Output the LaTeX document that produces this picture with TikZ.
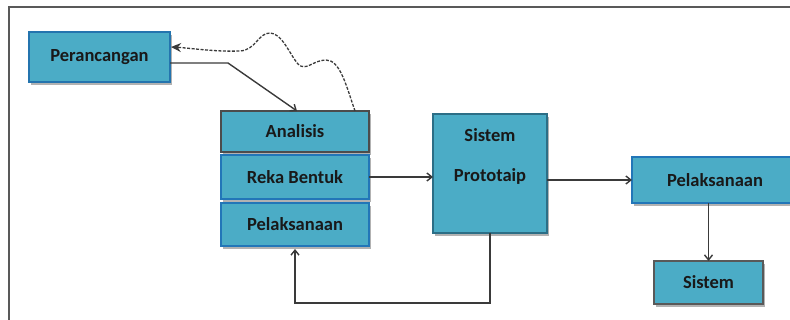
\documentclass[tikz,border=0pt]{standalone}
\usepackage{fontspec}
\setmainfont{Carlito}
\usetikzlibrary{arrows.meta,shadows}
\definecolor{boxfill}{HTML}{4BACC6}
\definecolor{boxedge}{HTML}{2C6E86}
\definecolor{blueedge}{HTML}{2276B8}
\definecolor{lineclr}{HTML}{3A3A3A}
\tikzset{
  box/.style={draw=boxedge, fill=boxfill, line width=1.6pt, inner sep=0pt, outer sep=0pt,
    font=\fontsize{18.5}{21}\selectfont\bfseries, text=black!90,
    drop shadow={shadow xshift=1.5pt, shadow yshift=-3pt, opacity=0.3, fill=black}},
  lbl/.style={font=\fontsize{18.5}{21}\selectfont\bfseries, text=black!90, inner sep=0pt},
  conn/.style={draw=lineclr, line width=1.4pt, -{Straight Barb[length=5pt,width=8pt]}},
  dconn/.style={draw=lineclr, line width=1.3pt, dash pattern=on 3pt off 1.5pt, -{Stealth[length=10pt,width=9pt]}},
}
\begin{document}
\begin{tikzpicture}[x=1pt,y=-1pt]
\useasboundingbox (0,0) rectangle (790,320);
\draw[gray!70!black, line width=2pt] (9,320) -- (9,7) -- (790,7);
\node[box, minimum width=141pt, minimum height=50pt, draw=blueedge!80!boxedge] (per) at (99.5,57) {Perancangan};
\node[box, minimum width=148pt, minimum height=41pt, draw=black!70] (ana) at (295,131.5) {Analisis};
\node[box, minimum width=148pt, minimum height=44pt, draw=blueedge] (reka) at (295,177) {Reka Bentuk};
\node[box, minimum width=148pt, minimum height=43pt, draw=blueedge] (pel) at (295,224.5) {Pelaksanaan};
\node[box, minimum width=114pt, minimum height=119pt] (proto) at (490,173.5) {};
\node[lbl] (protoA) at (490,135) {Sistem};
\node[lbl] (protoB) at (490,176) {Prototaip};
\node[box, minimum width=166pt, minimum height=46pt, draw=blueedge] (pel2) at (715,180) {Pelaksanaan};
\node[box, minimum width=109pt, minimum height=43pt, draw=black!65] (sis) at (708.5,282.5) {Sistem};
% connectors
\coordinate (perout) at ([yshift=-6pt]per.east);
\draw[conn] (perout) -- ++(58,0) -- ([xshift=2pt]ana.north);
\draw[dconn] ([xshift=-14pt]ana.north east) .. controls (346,85) and (340,60) .. (326,60)
  .. controls (313,60) and (306,72) .. (298,64)
  .. controls (290,55) and (282,33) .. (270,33)
  .. controls (258,33) and (256,50) .. (240,51)
  .. controls (215,52) and (190,48) .. ([yshift=10pt,xshift=1pt]per.east);
\draw[conn] (reka.east) -- (reka.east -| proto.west);
\draw[conn] (proto.east |- pel2.west) -- (pel2.west);
\draw[conn] (pel2.south -| sis.north) -- (sis.north);
\draw[conn] (proto.south) -- ++(0,70) -| ([yshift=-3pt]pel.south);
\end{tikzpicture}
\end{document}
